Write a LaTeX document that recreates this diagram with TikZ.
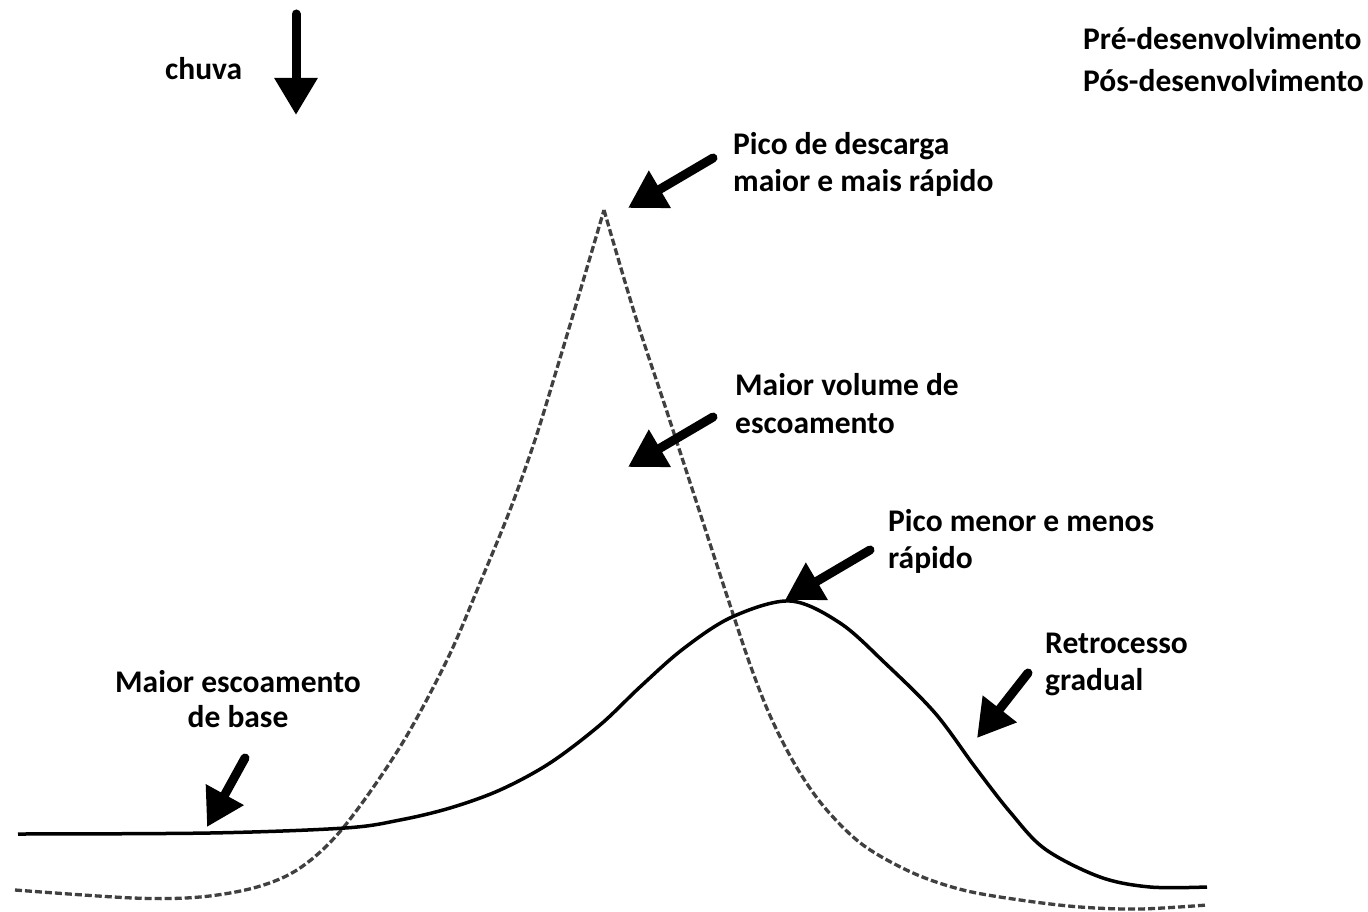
\documentclass[tikz,border=0pt]{standalone}
\usepackage{fontspec}
\setmainfont{Carlito}
\usetikzlibrary{arrows.meta}
\tikzset{
  fatarrow/.style={line width=9pt, line cap=round, -{Triangle[length=37pt,width=41pt]}},
  lbl/.style={font=\bfseries\fontsize{31.5}{38}\selectfont, inner sep=0pt},
  precurve/.style={line width=3.3pt, color=black!75, dash pattern=on 7pt off 3pt},
  poscurve/.style={line width=3.5pt, color=black},
}
\begin{document}
\begin{tikzpicture}[x=1pt,y=-1pt]
\useasboundingbox[fill=white] (0,0) rectangle (1368,912);

% labels
\node[lbl,anchor=base west] (chuva) at (165,80) {chuva};
\node[lbl,anchor=base west] (pre) at (1083,50) {Pré-desenvolvimento};
\node[lbl,anchor=base west] (pos) at (1083,92) {Pós-desenvolvimento};
\node[lbl,anchor=base west] (pd1) at (733,155) {Pico de descarga};
\node[lbl,anchor=base west] (pd2) at (733,192) {maior e mais rápido};
\node[lbl,anchor=base west] (mv1) at (735,395) {Maior volume de};
\node[lbl,anchor=base west] (mv2) at (735,433) {escoamento};
\node[lbl,anchor=base west] (pm1) at (888,531) {Pico menor e menos};
\node[lbl,anchor=base west] (pm2) at (888,568) {rápido};
\node[lbl,anchor=base west] (rg1) at (1045,653) {Retrocesso};
\node[lbl,anchor=base west] (rg2) at (1045,690) {gradual};
\node[lbl,anchor=base] (mb1) at (238,692) {Maior escoamento};
\node[lbl,anchor=base] (mb2) at (238,727) {de base};

% curves
\draw[precurve] plot[smooth,tension=0.55] coordinates {(15,890) (133,898) (200,897) (257,887) (300,868) (343,828) (400,747) (447,660) (480,583) (510,510) (535,440) (558,365) (581,288) (604,210)};
\draw[precurve] plot[smooth,tension=0.55] coordinates {(604,210) (635,315) (668,415) (700,513) (730,605) (752,670) (772,720) (797,768) (825,808) (863,845) (913,873) (963,890) (1020,900) (1080,907) (1140,909) (1207,905)};
\draw[poscurve] plot[smooth,tension=0.55] coordinates {(18,834) (210,833) (345,828) (400,820) (450,808) (500,790) (550,763) (600,725) (640,687) (683,649) (732,617) (790,601) (840,623) (885,663) (935,713) (975,767) (1010,812) (1045,849) (1100,877) (1150,887) (1207,887)};

% arrows
\coordinate (a1) at (296,14);  \coordinate (b1) at (296,115);
\coordinate (a2) at (713,158); \coordinate (b2) at (628,208);
\coordinate (a3) at (713,417); \coordinate (b3) at (628,467);
\coordinate (a4) at (870,550); \coordinate (b4) at (785,600);
\coordinate (a5) at (1028,673); \coordinate (b5) at (977,738);
\coordinate (a6) at (245,758); \coordinate (b6) at (207,827);
\foreach \i in {1,...,6} \draw[fatarrow] (a\i) -- (b\i);
\end{tikzpicture}
\end{document}
